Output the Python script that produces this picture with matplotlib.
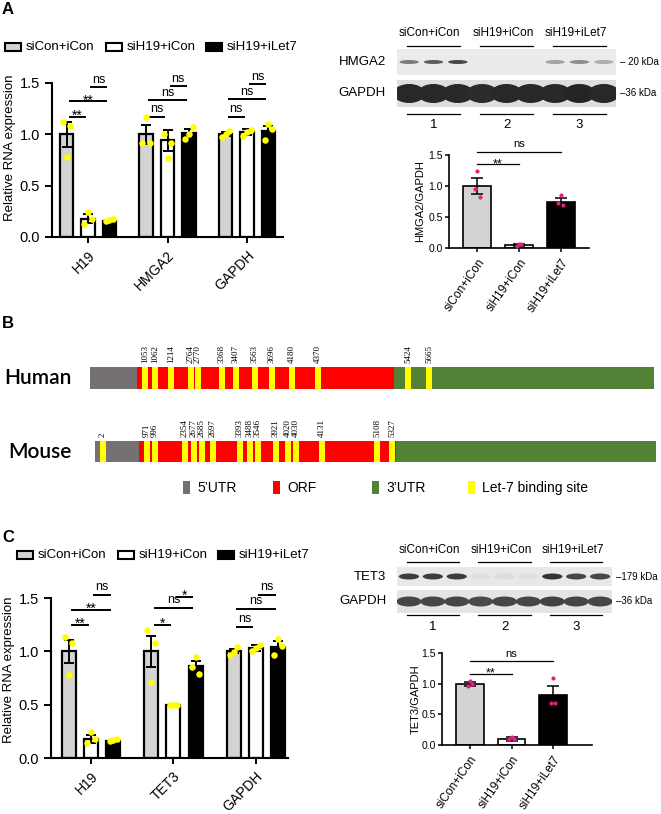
import numpy as np
import matplotlib
matplotlib.use("Agg")
import matplotlib.pyplot as plt
from matplotlib.patches import Rectangle, Ellipse
from matplotlib.colors import to_rgb
from matplotlib.ticker import FormatStrFormatter

plt.rcParams["font.family"] = ["Liberation Sans", "DejaVu Sans"]

W, H = 661, 814

groups = ["siCon+iCon", "siH19+iCon", "siH19+iLet7"]
group_colors = ["#d3d3d3", "#ffffff", "#000000"]

# ---- panel A: qPCR (gene x group)
a_genes = ["H19", "HMGA2", "GAPDH"]
a_mean = [[1.00, 0.18, 0.16], [1.00, 0.94, 1.01], [1.00, 1.02, 1.03]]
a_sem = [[0.12, 0.04, 0.01], [0.09, 0.10, 0.04], [0.02, 0.03, 0.05]]
a_pts = [[[1.12, 1.08, 0.78], [0.13, 0.18, 0.24], [0.16, 0.18, 0.17]],
         [[0.92, 0.92, 1.17], [1.00, 0.92, 0.77], [0.95, 1.07, 1.00]],
         [[0.97, 1.03, 1.00], [0.98, 1.04, 1.02], [0.94, 1.05, 1.10]]]
a_sig = [(0, 0, 1, 1.17, "**"), (0, 0, 2, 1.32, "**"), (0, 1, 2, 1.46, "ns"),
         (1, 0, 1, 1.17, "ns"), (1, 0, 2, 1.33, "ns"), (1, 1, 2, 1.47, "ns"),
         (2, 0, 1, 1.17, "ns"), (2, 0, 2, 1.34, "ns"), (2, 1, 2, 1.49, "ns")]

# panel A: western blot band strength per lane
hmga2_band = [0.55, 0.7, 0.8, 0.0, 0.0, 0.0, 0.35, 0.45, 0.3]
a_gapdh_band = [0.95, 0.95, 0.95, 0.93, 0.95, 0.95, 0.95, 0.97, 0.95]

# panel A: HMGA2/GAPDH
a_ratio_mean = [1.00, 0.05, 0.75]
a_ratio_sem = [0.13, 0.01, 0.05]
a_ratio_pts = [[0.95, 0.82, 1.25], [0.04, 0.06, 0.06], [0.72, 0.70, 0.85]]
a_ratio_sig = [(0, 1, 1.35, "**"), (0, 2, 1.55, "ns")]

# ---- panel B: transcript schematic (positions along the drawn bar)
human_regions = [90, 137, 394, 654]
human_sites = [145, 155, 171, 191, 198, 222, 236, 255, 272, 292, 318, 408, 429]
human_labels = ["1053", "1062", "1214", "2764", "2770", "3368", "3407", "3563",
                "3696", "4180", "4370", "5424", "5665"]
mouse_regions = [95, 139, 396, 656]
mouse_sites = [103, 147, 155, 185, 194, 202, 213, 240, 250, 258, 276, 288, 296,
               322, 377, 392]
mouse_labels = ["2", "971", "996", "2354", "2677", "2685", "2697", "3393", "3488",
                "3546", "3921", "4020", "4030", "4131", "5108", "5327"]
b_names = ["5’UTR", "ORF", "3’UTR", "Let-7 binding site"]
b_colors = ["#767171", "#ff0000", "#538135", "#ffff00"]

# ---- panel C: qPCR
c_genes = ["H19", "TET3", "GAPDH"]
c_mean = [[1.00, 0.18, 0.16], [1.00, 0.50, 0.86], [1.00, 1.03, 1.04]]
c_sem = [[0.11, 0.04, 0.01], [0.145, 0.005, 0.05], [0.02, 0.03, 0.06]]
c_pts = [[[1.13, 1.08, 0.78], [0.14, 0.18, 0.24], [0.16, 0.18, 0.17]],
         [[1.20, 1.08, 0.71], [0.50, 0.50, 0.50], [0.85, 0.79, 0.95]],
         [[0.97, 1.04, 0.99], [1.00, 1.06, 1.03], [0.97, 1.05, 1.12]]]
c_sig = [(0, 0, 1, 1.25, "**"), (0, 0, 2, 1.39, "**"), (0, 1, 2, 1.53, "ns"),
         (1, 0, 1, 1.25, "*"), (1, 0, 2, 1.41, "ns"), (1, 1, 2, 1.51, "*"),
         (2, 0, 1, 1.23, "ns"), (2, 0, 2, 1.40, "ns"), (2, 1, 2, 1.53, "ns")]

tet3_band = [0.85, 0.85, 0.85, 0.04, 0.06, 0.04, 0.9, 0.8, 0.8]
c_gapdh_band = [0.8, 0.8, 0.8, 0.78, 0.8, 0.8, 0.82, 0.8, 0.8]

c_ratio_mean = [1.00, 0.10, 0.82]
c_ratio_sem = [0.03, 0.03, 0.14]
c_ratio_pts = [[0.96, 0.99, 1.04], [0.09, 0.10, 0.13], [0.69, 0.69, 1.10]]
c_ratio_sig = [(0, 1, 1.16, "**"), (0, 2, 1.37, "ns")]


fig = plt.figure(figsize=(W / 100, H / 100), dpi=100)


def px_axes(left, top, right, bottom):
    return fig.add_axes([left / W, 1 - bottom / H, (right - left) / W, (bottom - top) / H])


canvas = px_axes(0, 0, W, H)
canvas.set_xlim(0, W)
canvas.set_ylim(H, 0)
canvas.axis("off")

BAR_OFF = 0.27
BAR_W = 0.17
PT_DX = np.array([-0.045, 0.045, 0.0])


def clean(ax, lw):
    for s in ("top", "right"):
        ax.spines[s].set_visible(False)
    for s in ("left", "bottom"):
        ax.spines[s].set_linewidth(lw)


def sig_text(ax, x, y, lab, size):
    # asterisks sit high in the font box, so pull them down onto the line
    dy = -2.2 if "*" in lab else 3.2
    ax.annotate(lab, (x, y), xytext=(0, dy), textcoords="offset points",
                ha="center", va="baseline", fontsize=size + (1 if "*" in lab else 0),
                annotation_clip=False)


def qpcr(ax, genes, mean, sem, pts, sig, xlim, ylab_xy):
    x0 = np.arange(len(genes))
    for g in range(3):
        x = x0 + (g - 1) * BAR_OFF
        m = [row[g] for row in mean]
        e = [row[g] for row in sem]
        ax.bar(x, m, BAR_W, color=group_colors[g], edgecolor="black", linewidth=1.6, zorder=2)
        ax.errorbar(x, m, yerr=e, fmt="none", ecolor="black", elinewidth=1.4,
                    capsize=3.5, capthick=1.4, zorder=3)
        for k in range(len(genes)):
            ax.scatter(x[k] + PT_DX, pts[k][g], s=22, color="#ffff00", linewidths=0, zorder=4)
    for k, i, j, y, lab in sig:
        xa = k + (i - 1) * BAR_OFF + 0.03
        xb = k + (j - 1) * BAR_OFF - 0.03
        ax.plot([xa, xb], [y, y], color="black", lw=1.4, clip_on=False, solid_capstyle="butt")
        sig_text(ax, (xa + xb) / 2, y, lab, 9)
    ax.set_xlim(*xlim)
    ax.set_ylim(0, 1.5)
    ax.set_yticks([0, 0.5, 1.0, 1.5])
    ax.yaxis.set_major_formatter(FormatStrFormatter("%.1f"))
    ax.set_xticks(x0)
    ax.set_xticklabels(genes, rotation=45, ha="right", rotation_mode="anchor", fontsize=10)
    ax.tick_params(axis="y", labelsize=10.5, width=1.4, length=5)
    ax.tick_params(axis="x", width=1.4, length=4, pad=4)
    clean(ax, 1.5)
    ax.set_ylabel("Relative RNA expression", fontsize=9.5)
    ax.yaxis.set_label_coords(*ylab_xy)


def ratio(ax, mean, sem, pts, sig, ylabel, xlim, ylab_x):
    x = np.arange(3)
    ax.bar(x, mean, 0.66, color=group_colors, edgecolor="black", linewidth=1.2, zorder=2)
    ax.errorbar(x, mean, yerr=sem, fmt="none", ecolor="black", elinewidth=1.1,
                capsize=4.5, capthick=1.1, zorder=3)
    for g in range(3):
        ax.scatter(x[g] + PT_DX * 1.3, pts[g], s=9, color="#e6207e", linewidths=0, zorder=4)
    for i, j, y, lab in sig:
        ax.plot([x[i], x[j]], [y, y], color="black", lw=0.9, clip_on=False)
        sig_text(ax, (x[i] + x[j]) / 2, y, lab, 8)
    ax.set_xlim(*xlim)
    ax.set_ylim(0, 1.5)
    ax.set_yticks([0, 0.5, 1.0, 1.5])
    ax.yaxis.set_major_formatter(FormatStrFormatter("%.1f"))
    ax.set_xticks(x)
    ax.set_xticklabels(groups, rotation=55, ha="right", rotation_mode="anchor", fontsize=8.5)
    ax.tick_params(axis="y", labelsize=7.5, width=1.1, length=3, pad=1.5)
    ax.tick_params(axis="x", width=1.1, length=3, pad=3)
    clean(ax, 1.2)
    ax.set_ylabel(ylabel, fontsize=8)
    ax.yaxis.set_label_coords(ylab_x, 0.5)


def group_legend(x0, y):
    for g, name in enumerate(groups):
        x = x0 + 100.5 * g
        canvas.add_patch(Rectangle((x, y - 4), 16, 8, facecolor=group_colors[g],
                                   edgecolor="black", lw=1.5))
        canvas.text(x + 21, y, name, va="center", fontsize=9.5)


def mix(bg, v):
    b = np.array(to_rgb(bg))
    return tuple(b * (1 - v) + np.array([0.12, 0.12, 0.12]) * v)


def western(left, right, y_lab, gap, strips, line_y, num_y):
    ax = px_axes(left, y_lab - 15, right, num_y + 10)
    ax.set_xlim(-0.5, 8.5)
    ax.set_ylim(num_y + 10, y_lab - 15)
    ax.axis("off")
    lanes = np.arange(9)
    for g, name in enumerate(groups):
        c = lanes[3 * g + 1]
        ax.text(c - 0.15, y_lab, name, ha="center", va="center", fontsize=8.5)
        ax.plot([c - 1.1, c + 1.1], [y_lab + gap, y_lab + gap], color="black", lw=0.9)
        ax.plot([c - 1.1, c + 1.1], [line_y, line_y], color="black", lw=0.9)
        ax.text(c, num_y, str(g + 1), ha="center", va="center", fontsize=9.5)
    for name, inten, top, bot, bg, bw, bh, kda in strips:
        ax.add_patch(Rectangle((-0.5, top), 9, bot - top, facecolor=bg, lw=0))
        mid = (top + bot) / 2
        for l, v in zip(lanes, inten):
            ax.add_patch(Ellipse((l, mid), bw, bh, facecolor=mix(bg, v), lw=0))
        ax.text(-0.95, mid, name, ha="right", va="center", fontsize=9.5)
        ax.text(8.65, mid, kda, ha="left", va="center", fontsize=7)


def gene(y, regions, sites, labels, name, h):
    for k in range(3):
        canvas.barh(y, regions[k + 1] - regions[k], left=regions[k], height=h,
                    color=b_colors[k], lw=0)
    canvas.barh(y, 5.5, left=np.array(sites) - 2.75, height=h, color=b_colors[3], lw=0)
    for s, lab in zip(sites, labels):
        canvas.text(s, y - h / 2 - 4, lab, rotation=90, ha="center", va="bottom",
                    fontsize=6.5, family="Liberation Serif")
    canvas.text(72, y, name, ha="right", va="center", fontsize=15, family="Lato",
                fontweight="semibold")


# panel letters
for lab, y in (("A", 10), ("B", 323), ("C", 537)):
    canvas.text(2, y, lab, fontsize=12, fontweight="bold", va="center")

# ---- A
group_legend(5, 47)
qpcr(px_axes(52, 83, 283, 237), a_genes, a_mean, a_sem, a_pts, a_sig,
     (-0.453, 2.453), (-0.156, 0.58))
western(397, 616, 33, 13,
        [("HMGA2", hmga2_band, 49, 75, "#ebebeb", 0.8, 4, "– 20 kDa"),
         ("GAPDH", a_gapdh_band, 80, 107, "#dedede", 1.3, 19, "–36 kDa")],
        114, 125)
ratio(px_axes(449, 155, 589, 248), a_ratio_mean, a_ratio_sem, a_ratio_pts, a_ratio_sig,
      "HMGA2/GAPDH", (-0.67, 2.67), -0.17)

# ---- B
gene(378, human_regions, human_sites, human_labels, "Human", 22)
gene(451.5, mouse_regions, mouse_sites, mouse_labels, "Mouse", 21)
for k, (name, col) in enumerate(zip(b_names, b_colors)):
    x = [183, 273, 372, 468][k]
    canvas.add_patch(Rectangle((x, 481), 7, 13, facecolor=col, lw=0))
    canvas.text(x + 14, 488, name, va="center", fontsize=10)

# ---- C
group_legend(17, 555)
qpcr(px_axes(51, 598, 288, 758), c_genes, c_mean, c_sem, c_pts, c_sig,
     (-0.485, 2.39), (-0.152, 0.55))
western(397, 612, 550, 12,
        [("TET3", tet3_band, 567, 586, "#e8e8e8", 0.85, 6, "–179 kDa"),
         ("GAPDH", c_gapdh_band, 590, 613, "#e4e4e4", 1.05, 10, "–36 kDa")],
        615, 627)
ratio(px_axes(442, 653, 592, 745), c_ratio_mean, c_ratio_sem, c_ratio_pts, c_ratio_sig,
      "TET3/GAPDH", (-0.675, 2.94), -0.14)

fig.savefig("out.png", dpi=100)
